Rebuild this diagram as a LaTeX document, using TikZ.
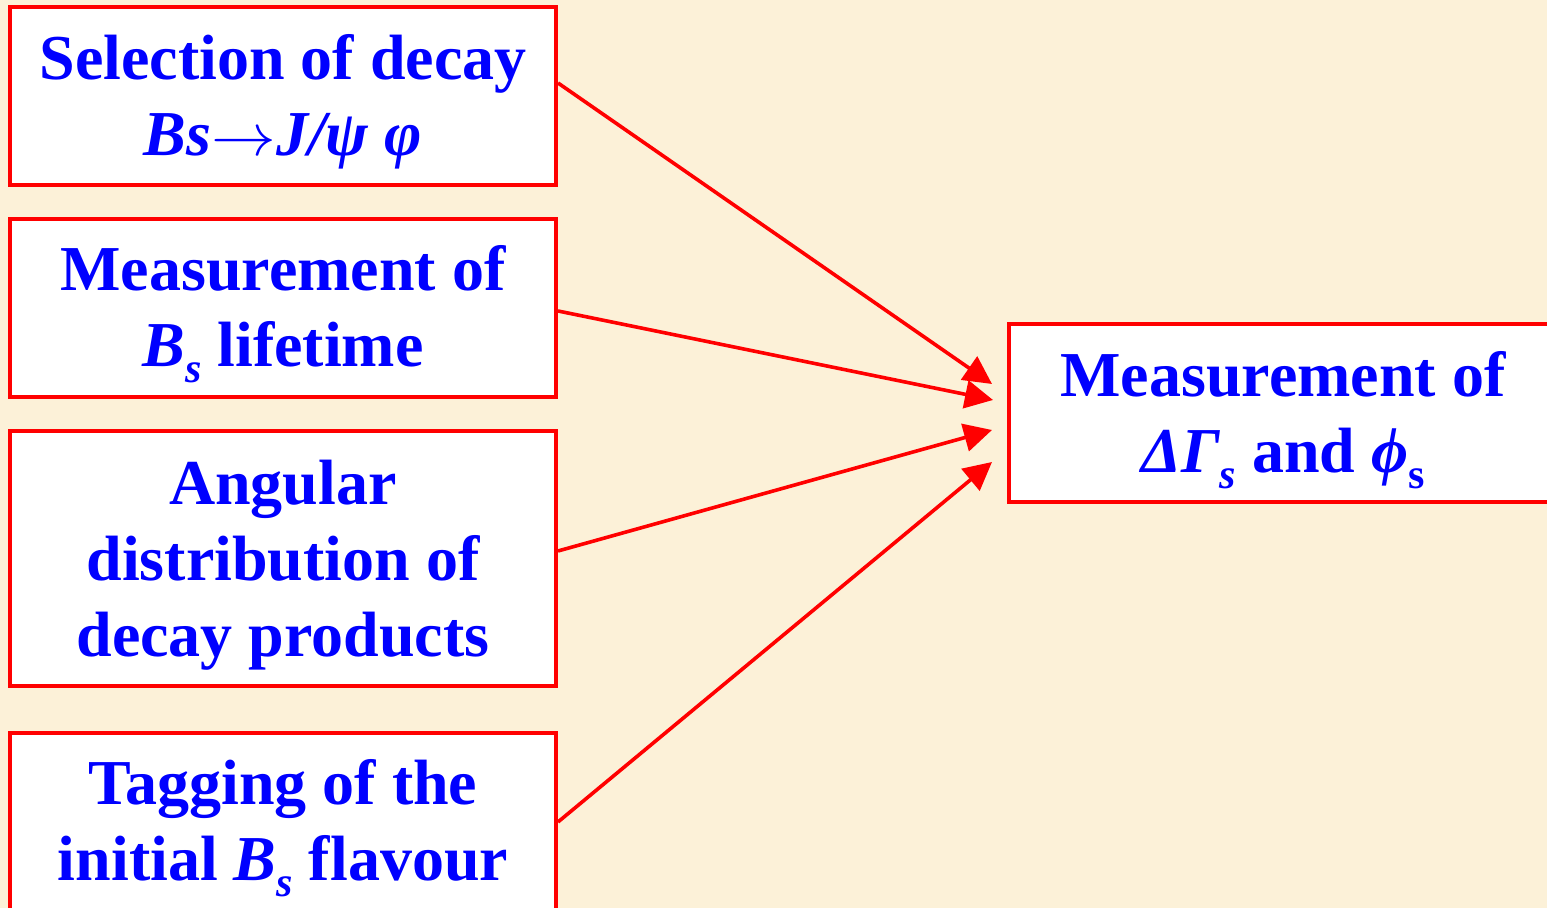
\documentclass[tikz,border=0pt]{standalone}
\usepackage{fontspec}
\setmainfont{Liberation Serif}
\usetikzlibrary{arrows.meta}
\definecolor{parch}{RGB}{252,241,216}
\definecolor{boxred}{RGB}{255,0,0}
\definecolor{txtblue}{RGB}{0,0,255}
\newcommand{\lsub}[1]{\raisebox{-8pt}{\fontsize{21}{21}\selectfont #1}}
\newcommand{\tstrut}{\rule{0pt}{29pt}}
\newcommand{\bstrut}{\rule[-7pt]{0pt}{7pt}}
\newcommand{\decayto}{\scalebox{1.3}[1.2]{$\rightarrow$}}

\begin{document}
\begin{tikzpicture}[x=0.5pt,y=0.5pt,
  box/.style={draw=boxred,line width=2pt,fill=white,text=txtblue,align=center,
    font=\bfseries\fontsize{32}{38}\selectfont,
    minimum width=273pt,minimum height=89pt,inner sep=0pt},
  link/.style={boxred,line width=1.8pt,-{Triangle[length=14pt,width=14pt]}}]
\clip (0,0) rectangle (1547,908);
\fill[parch] (0,0) rectangle (1547,908);

\node[box] (sel) at (283,812) {\tstrut Selection of decay\\ \textit{Bs}\decayto\textit{J/ψ φ}\bstrut};
\node[box] (life) at (283,600) {\tstrut Measurement of\\ \textit{B\lsub{s}} lifetime\bstrut};
\node[box,minimum height=127.5pt] (ang) at (283,349.5) {\tstrut Angular\\ distribution of\\ decay products\bstrut};
\node[box] (tag) at (283,86) {\tstrut Tagging of the\\ initial \textit{B\lsub{s}} flavour\bstrut};
\node[box,minimum width=274pt] (res) at (1283,494.5) {\tstrut Measurement of\\ \textit{ΔΓ\lsub{s}} and \textit{ϕ}\lsub{s}\bstrut};

\draw[link] ([shift={(0,13)}]sel.east) -- ([shift={(-15,29.5)}]res.west);
\draw[link] ([shift={(0,-3)}]life.east) -- ([shift={(-14,13.5)}]res.west);
\draw[link] ([shift={(0,7.5)}]ang.east) -- ([shift={(-15,-16.5)}]res.west);
\draw[link] (tag.east) -- ([shift={(-15,-48.5)}]res.west);

\end{tikzpicture}
\end{document}
